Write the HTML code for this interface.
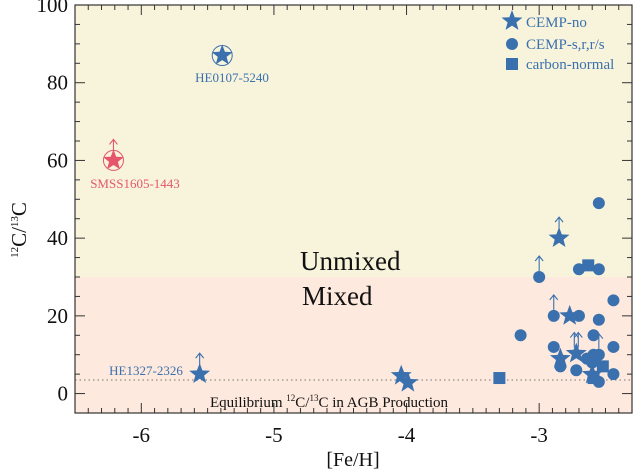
<!DOCTYPE html>
<html><head><meta charset="utf-8"><style>
html,body{margin:0;padding:0;background:#fff;}
svg{display:block;font-family:"Liberation Serif",serif;}
</style></head><body>
<svg id="chart" width="640" height="470" viewBox="0 0 640 470" xmlns="http://www.w3.org/2000/svg"></svg>
<script>
const xTicks=[-6,-5,-4,-3];
const yTicks=[0,20,40,60,80,100];
const starX=[-5.39,-6.21,-5.56,-4.04,-3.99,-2.85,-2.77,-2.84,-2.72,-2.60];
const starY=[87,60,5,4.6,2.8,40,20,9,10.3,4.9];
const starArrow=[0,1,1,0,0,1,0,0,2,0];
const starRing=[1,1,0,0,0,0,0,0,0,0];
const starRed=[0,1,0,0,0,0,0,0,0,0];
const circX=[-2.55,-3.00,-2.70,-2.55,-2.44,-2.89,-2.70,-2.55,-3.14,-2.59,-2.89,-2.44,-2.64,-2.59,-2.55,-2.84,-2.72,-2.44,-2.55,-2.60];
const circY=[49,30,32,32,24,20,20,19,15,15,12,12,9,10,10,7,6,5,3,8];
const circArrow=[0,1,0,0,0,1,0,0,0,0,0,0,0,0,1,0,0,0,0,0];
const sqX=[-2.63,-3.30,-2.52,-2.59];
const sqY=[33,4,7,4];
const equilibrium=3.5, mixBoundary=30;

const NS="http://www.w3.org/2000/svg";
const svg=document.getElementById('chart');
const L=75,R=632,T=5,B=413,xMin=-6.5,xMax=-2.3,yMin=-5,yMax=100;
const sx=v=>L+(v-xMin)/(xMax-xMin)*(R-L);
const sy=v=>B-(v-yMin)/(yMax-yMin)*(B-T);
const BLUE="#3b70ae",RED="#e5566c";
function el(tag,attrs,parent){const e=document.createElementNS(NS,tag);for(const k in attrs)e.setAttribute(k,attrs[k]);(parent||svg).appendChild(e);return e;}
function starPts(cx,cy,r){let p=[];for(let i=0;i<10;i++){const a=-Math.PI/2+i*Math.PI/5;const rr=i%2?r*0.42:r;p.push((cx+rr*Math.cos(a)).toFixed(1)+","+(cy+rr*Math.sin(a)).toFixed(1));}return p.join(" ");}
function arrow(cx,cy,col,dx){const g=el('g',{stroke:col,'stroke-width':1.1,fill:'none'});


el('path',{d:`M${cx+dx} ${cy-6}V${cy-20}M${cx+dx-4} ${cy-16}L${cx+dx} ${cy-21}L${cx+dx+4} ${cy-16}`},g);}

// backgrounds
let r1=el('rect',{x:L,y:T,width:R-L,height:sy(mixBoundary)-T,fill:'#f8f4dc'});


let r2=el('rect',{x:L,y:sy(mixBoundary),width:R-L,height:B-sy(mixBoundary),fill:'#fde9dd'});


let eq=el('line',{x1:L,x2:R,y1:sy(equilibrium),y2:sy(equilibrium),stroke:'#777','stroke-width':1,'stroke-dasharray':'1.5,3'});



// ticks
const tg=el('g',{stroke:'#333','stroke-width':1});


for(let v=-6.5;v<=-2.3001;v+=0.1){const x=sx(v);const maj=Math.abs(v-Math.round(v))<0.01;const len=maj?10:5;
el('line',{x1:x,x2:x,y1:B,y2:B-len},tg);el('line',{x1:x,x2:x,y1:T,y2:T+len},tg);}
for(let v=-5;v<=100;v+=5){const y=sy(v);const maj=v%20===0;const len=maj?10:5;
el('line',{x1:L,x2:L+len,y1:y,y2:y},tg);el('line',{x1:R,x2:R-len,y1:y,y2:y},tg);}
let fr=el('rect',{x:L,y:T,width:R-L,height:B-T,fill:'none',stroke:'#333','stroke-width':1.2});


xTicks.forEach(v=>{const t=el('text',{x:sx(v),y:442,'font-size':21,'text-anchor':'middle',fill:'#111'});t.textContent=String(v);

});
yTicks.forEach(v=>{const t=el('text',{x:68,y:sy(v)+7,'font-size':21,'text-anchor':'end',fill:'#111'});t.textContent=String(v);

});

// texts
function txt(x,y,s,size,col,name,anchor){const t=el('text',{x:x,y:y,'font-size':size,fill:col,'text-anchor':anchor||'start'});t.innerHTML=s;

return t;}
txt(353,466,'[Fe/H]',20,'#111','x-axis-title','middle');
const yt=txt(0,0,'<tspan font-size="11" dy="-8">12</tspan><tspan dy="8">C/</tspan><tspan font-size="11" dy="-8">13</tspan><tspan dy="8">C</tspan>',21,'#111','y-axis-title','middle');
yt.setAttribute('transform','translate(26,230) rotate(-90)');
txt(300,270,'Unmixed',27,'#111','unmixed-label');
txt(302,305,'Mixed',27,'#111','mixed-label');
txt(210,407,'Equilibrium <tspan font-size="9" dy="-6">12</tspan><tspan dy="6">C/</tspan><tspan font-size="9" dy="-6">13</tspan><tspan dy="6">C in AGB Production</tspan>',15,'#111','equilibrium-label');
txt(232,82,'HE0107-5240',13,BLUE,'he0107-label','middle');
txt(135,188,'SMSS1605-1443',13,RED,'smss1605-label','middle');
txt(146,375,'HE1327-2326',13,BLUE,'he1327-label','middle');

// squares
sqX.forEach((v,i)=>{const x=sx(v),y=sy(sqY[i]);const s=el('rect',{x:x-6,y:y-6,width:12,height:12,fill:BLUE});

});
// circles
circX.forEach((v,i)=>{const x=sx(v),y=sy(circY[i]);const c=el('circle',{cx:x,cy:y,r:6,fill:BLUE});


if(circArrow[i])arrow(x,y,BLUE,0);});
// stars
starX.forEach((v,i)=>{const x=sx(v),y=sy(starY[i]);const col=starRed[i]?RED:BLUE;
if(starRing[i]){const rg=el('circle',{cx:x,cy:y,r:10,fill:'none',stroke:col,'stroke-width':1});

}
const s=el('polygon',{points:starPts(x,y,11),fill:col});


if(starArrow[i]===1)arrow(x,y,col,0);
if(starArrow[i]===2){arrow(x,y,col,-2);arrow(x,y,col,2);}});

// legend
const lg=el('g',{});


el('polygon',{points:starPts(512,21,11),fill:BLUE},lg);
el('circle',{cx:512,cy:44,r:6,fill:BLUE},lg);
el('rect',{x:506,y:58,width:12,height:12,fill:BLUE},lg);
[['CEMP-no',27],['CEMP-s,r,r/s',49],['carbon-normal',69]].forEach(([s,y])=>{const t=el('text',{x:526,y:y,'font-size':15,fill:BLUE},lg);t.textContent=s;

});
</script>
</body></html>
